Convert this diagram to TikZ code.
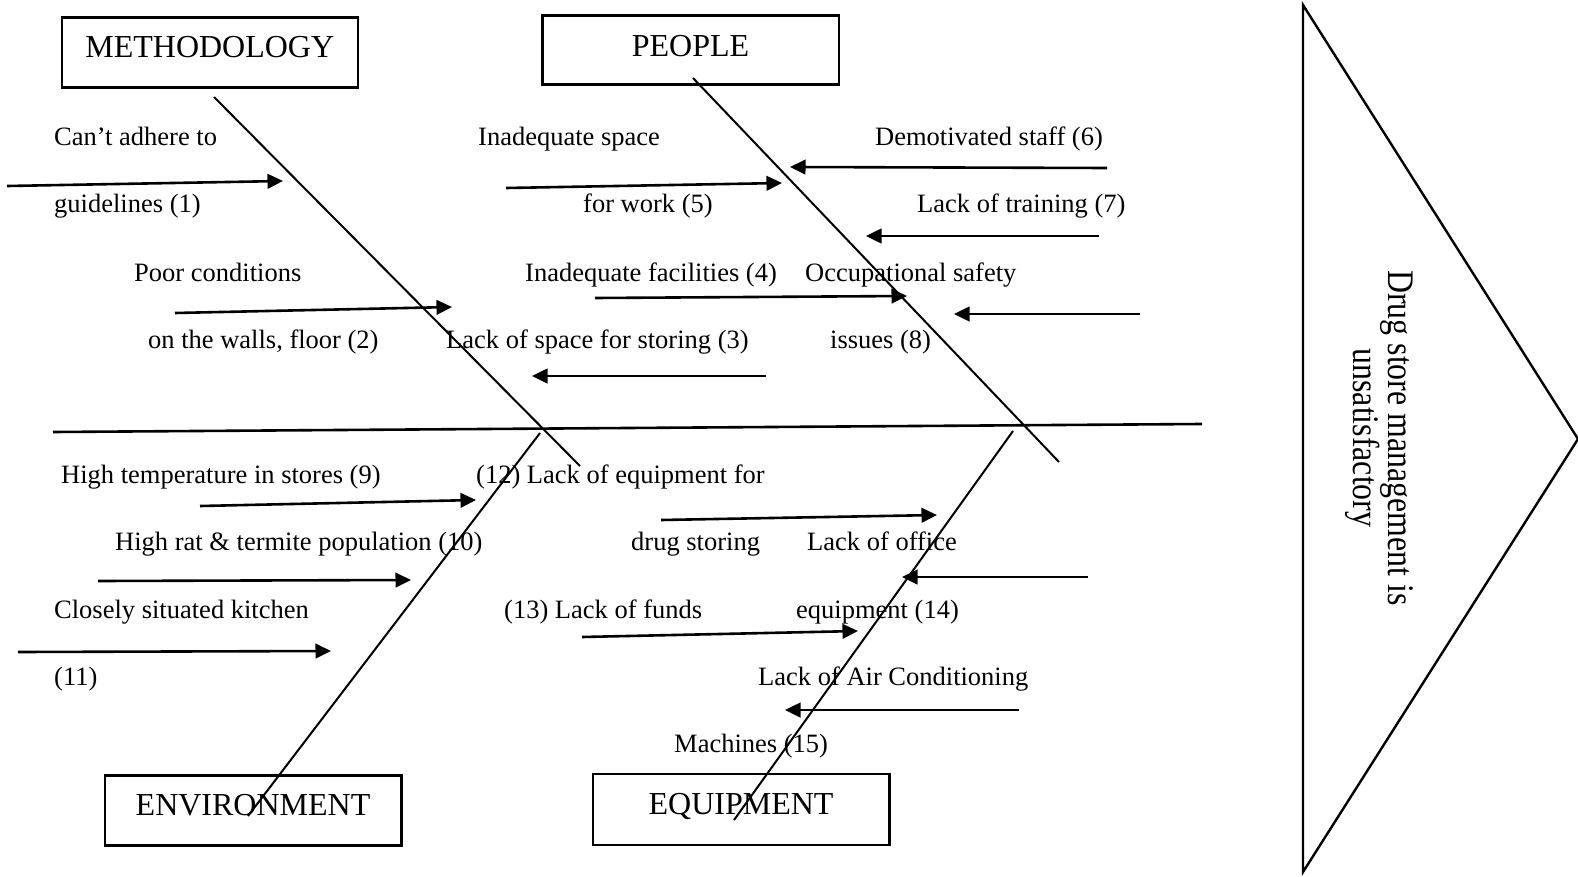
\documentclass[tikz,border=0pt]{standalone}
\usepackage{fontspec}
\setmainfont{Liberation Serif}
\newfontfamily\trifont[FakeStretch=0.85]{Liberation Serif}
\usetikzlibrary{arrows.meta}
\tikzset{
  lbl/.style={inner sep=0pt, anchor=base west, font=\fontsize{26.5}{32}\selectfont},
  catbox/.style={draw, line width=2.6pt, inner sep=0pt, anchor=north west, minimum width=296.5pt, font=\fontsize{32}{38}\selectfont},
  arr/.style={line width=2.6pt, -{Triangle[length=15.5pt,width=14.5pt]}},
  bone/.style={line width=2pt},
  spine/.style={line width=2.6pt},
  trilbl/.style={inner sep=0pt, anchor=base, rotate=-90, font=\trifont\fontsize{37.5}{40}\selectfont}
}
\begin{document}
\begin{tikzpicture}[x=1pt,y=-1pt]
\useasboundingbox (0,0) rectangle (1578,877);

% category boxes
\node[catbox, minimum width=296pt, text height=40pt, text depth=30pt] (methbox) at (60.5,16) {METHODOLOGY};
\node[catbox, text height=41pt, text depth=28pt] (peoplebox) at (541,14.5) {PEOPLE};
\node[catbox, text height=40pt, text depth=30pt] (envbox) at (103.5,774) {ENVIRONMENT};
\node[catbox, text height=41pt, text depth=30pt] (equipbox) at (591.5,772.5) {EQUIPMENT};

% spine
\coordinate (spL) at (53,432);
\coordinate (spR) at (1202,424);
\draw[spine] (spL) -- (spR);

% bones
\coordinate (mA) at (214,97);   \coordinate (mB) at (580,466);
\coordinate (pA) at (693,78);   \coordinate (pB) at (1059,462);
\coordinate (eA) at (540,433);  \coordinate (eB) at (248,816);
\coordinate (qA) at (1013,431); \coordinate (qB) at (734,820);
\draw[bone] (mA) -- (mB);
\draw[bone] (pA) -- (pB);
\draw[bone] (eA) -- (eB);
\draw[bone] (qA) -- (qB);

% effect triangle
\coordinate (tTop) at (1303,5);
\coordinate (tApex) at (1578,439);
\coordinate (tBot) at (1303,872);
\draw[line width=2.4pt, line join=miter] (tTop) -- (tApex) -- (tBot) -- cycle;
\node[trilbl] (eff1) at (1388,438) {Drug store management is};
\node[trilbl] (eff2) at (1353,438) {unsatisfactory};

% labels: methodology
\node[lbl] (t1a) at (54,146) {Can’t adhere to};
\node[lbl] (t1b) at (54,213) {guidelines (1)};
\node[lbl] (t2a) at (134,281) {Poor conditions};
\node[lbl] (t2b) at (148,348) {on the walls, floor (2)};
% people
\node[lbl] (t5a) at (478,146) {Inadequate space};
\node[lbl] (t5b) at (583,213) {for work (5)};
\node[lbl] (t4) at (525,281) {Inadequate facilities (4)};
\node[lbl] (t3) at (446,348) {Lack of space for storing (3)};
\node[lbl] (t6) at (875,146) {Demotivated staff (6)};
\node[lbl] (t7) at (917,213) {Lack of training (7)};
\node[lbl] (t8a) at (805,281) {Occupational safety};
\node[lbl] (t8b) at (830,348) {issues (8)};
% environment
\node[lbl] (t9) at (61,483) {High temperature in stores (9)};
\node[lbl] (t10) at (115,550) {High rat \& termite population (10)};
\node[lbl] (t11a) at (54,618) {Closely situated kitchen};
\node[lbl] (t11b) at (54,685) {(11)};
% equipment
\node[lbl] (t12a) at (476,483) {(12) Lack of equipment for};
\node[lbl] (t12b) at (631,550) {drug storing};
\node[lbl] (t14a) at (807,550) {Lack of office};
\node[lbl] (t13) at (504,618) {(13) Lack of funds};
\node[lbl] (t14b) at (796,618) {equipment (14)};
\node[lbl] (t15a) at (758,685) {Lack of Air Conditioning};
\node[lbl] (t15b) at (674,752) {Machines (15)};

% arrows
\coordinate (a1s) at (7,186);    \coordinate (a1e) at (283,181);
\coordinate (a2s) at (175,313);  \coordinate (a2e) at (452,307);
\coordinate (a5s) at (506,188);  \coordinate (a5e) at (782,183);
\coordinate (a4s) at (595,298);  \coordinate (a4e) at (907,296);
\coordinate (a3s) at (766,376);  \coordinate (a3e) at (532,376);
\coordinate (a6s) at (1107,168); \coordinate (a6e) at (790,167);
\coordinate (a7s) at (1099,236); \coordinate (a7e) at (866,236);
\coordinate (a8s) at (1140,314); \coordinate (a8e) at (954,314);
\coordinate (a9s) at (200,506);  \coordinate (a9e) at (476,500);
\coordinate (a10s) at (98,581);  \coordinate (a10e) at (411,580);
\coordinate (a11s) at (18,652);  \coordinate (a11e) at (331,651);
\coordinate (a12s) at (661,520); \coordinate (a12e) at (937,515);
\coordinate (a14s) at (1088,577); \coordinate (a14e) at (902,577);
\coordinate (a13s) at (582,637); \coordinate (a13e) at (858,631);
\coordinate (a15s) at (1019,710); \coordinate (a15e) at (785,710);
\foreach \a in {1,2,3,4,5,6,7,8,9,10,11,12,13,14,15}
  \draw[arr] (a\a s) -- (a\a e);
\end{tikzpicture}
\end{document}
